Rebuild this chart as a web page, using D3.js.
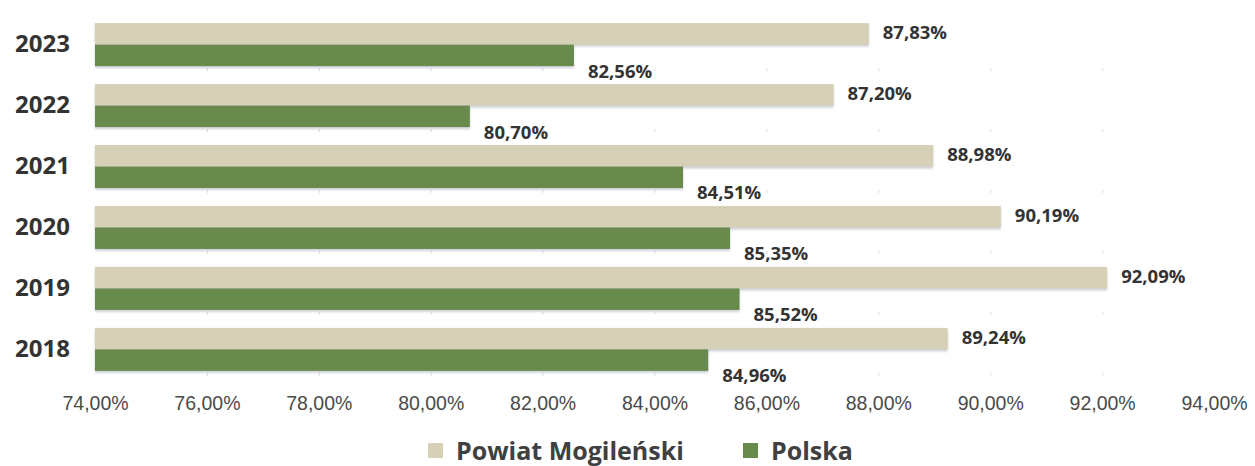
<!DOCTYPE html>
<html>
<head>
<meta charset="utf-8">
<script src="https://cdn.jsdelivr.net/npm/d3@7"></script>
<style>
  body { margin: 0; background: #fff; }
  svg { display: block; }
</style>
</head>
<body>
<div id="chart"></div>
<script>
// categories (top to bottom as drawn)
const years = ['2023', '2022', '2021', '2020', '2019', '2018'];
// series values in percent
const powiat = [87.83, 87.20, 88.98, 90.19, 92.09, 89.24];
const polska = [82.56, 80.70, 84.51, 85.35, 85.52, 84.96];
const seriesNames = ['Powiat Mogileński', 'Polska'];
const xTicks = [74, 76, 78, 80, 82, 84, 86, 88, 90, 92, 94];

const width = 1255, height = 466;
const colors = { 'Powiat Mogileński': '#d6d0b6', 'Polska': '#698a4d' };

const data = years.map((y, i) => ({ year: y, values: [
  { key: seriesNames[0], value: powiat[i] },
  { key: seriesNames[1], value: polska[i] }
]}));

const svg = d3.select('#chart')
  .append('svg')
    .attr('width', width)
    .attr('height', height);

// soft shadow like the original
const defs = svg.append('defs');
const f = defs.append('filter').attr('id', 'shadow')
  .attr('x', '-2%').attr('y', '-20%').attr('width', '104%').attr('height', '160%');
f.append('feDropShadow').attr('dx', 0).attr('dy', 2).attr('stdDeviation', 1)
  .attr('flood-color', '#9aa0b0').attr('flood-opacity', 0.5);

const x = d3.scaleLinear()
  .domain([74, 94])
  .range([95, 1214]);

const y0 = d3.scaleBand()
  .domain(years)
  .range([14, 380])
  .paddingInner(0.295)
  .paddingOuter(0.15);

const y1 = d3.scaleBand()
  .domain(seriesNames)
  .range([0, y0.bandwidth()]);

// faint floor tick marks under each group
const floor = svg.append('g');
years.forEach(yr => {
  floor.append('g')
    .attr('transform', `translate(0,${y0(yr) + y0.bandwidth() + 2})`)
    .call(d3.axisBottom(x).tickValues(xTicks.slice(1, -1)).tickSize(3).tickFormat(''))
    .call(g => g.select('.domain').remove())
    .call(g => g.selectAll('line').attr('stroke', '#dcdde4'));
});

// x axis labels
svg.append('g')
    .attr('transform', `translate(0,393)`)
    .call(d3.axisBottom(x).tickValues(xTicks).tickSize(0)
      .tickFormat(d => d3.format('.2f')(d).replace('.', ',') + '%'))
    .call(g => g.select('.domain').remove())
    .call(g => g.selectAll('text')
      .attr('fill', '#4a4a4a')
      .attr('font-family', '"Liberation Sans", Arial, sans-serif')
      .attr('font-size', 19.5));

// y axis labels
svg.append('g')
    .attr('transform', `translate(70,0)`)
    .call(d3.axisLeft(y0).tickSize(0).tickPadding(0))
    .call(g => g.select('.domain').remove())
    .call(g => g.selectAll('text')
      .attr('fill', '#333')
      .attr('font-family', '"Open Sans", sans-serif')
      .attr('font-weight', 700)
      .attr('font-size', 24));

// bars
const groups = svg.append('g')
  .selectAll('g')
  .data(data)
  .join('g')
    .attr('transform', d => `translate(0,${y0(d.year)})`);

groups.selectAll('rect')
  .data(d => d.values)
  .join('rect')
    .attr('x', x(74))
    .attr('y', d => y1(d.key))
    .attr('width', d => x(d.value) - x(74))
    .attr('height', y1.bandwidth())
    .attr('fill', d => colors[d.key])
    .attr('filter', 'url(#shadow)');

// value labels
const fmt = v => d3.format('.2f')(v).replace('.', ',') + '%';
groups.selectAll('text')
  .data(d => d.values)
  .join('text')
    .attr('x', d => x(d.value) + 14)
    .attr('y', d => d.key === seriesNames[0]
      ? y1(d.key) + y1.bandwidth() / 2 - 1
      : y1(d.key) + y1.bandwidth() + 5)
    .attr('dy', '0.35em')
    .attr('fill', '#333')
    .attr('font-family', '"Open Sans", sans-serif')
    .attr('font-weight', 700)
    .attr('font-size', 18.5)
    .text(d => fmt(d.value));

// legend
const legend = svg.append('g')
    .attr('font-family', '"Open Sans", sans-serif')
    .attr('font-weight', 700)
    .attr('font-size', 25)
    .attr('fill', '#404040');
const legendX = [428, 743];
seriesNames.forEach((s, i) => {
  legend.append('rect')
    .attr('x', legendX[i]).attr('y', 443)
    .attr('width', 15).attr('height', 15)
    .attr('fill', colors[s]);
  legend.append('text')
    .attr('x', legendX[i] + 28).attr('y', 460)
    .text(s);
});
</script>
</body>
</html>
